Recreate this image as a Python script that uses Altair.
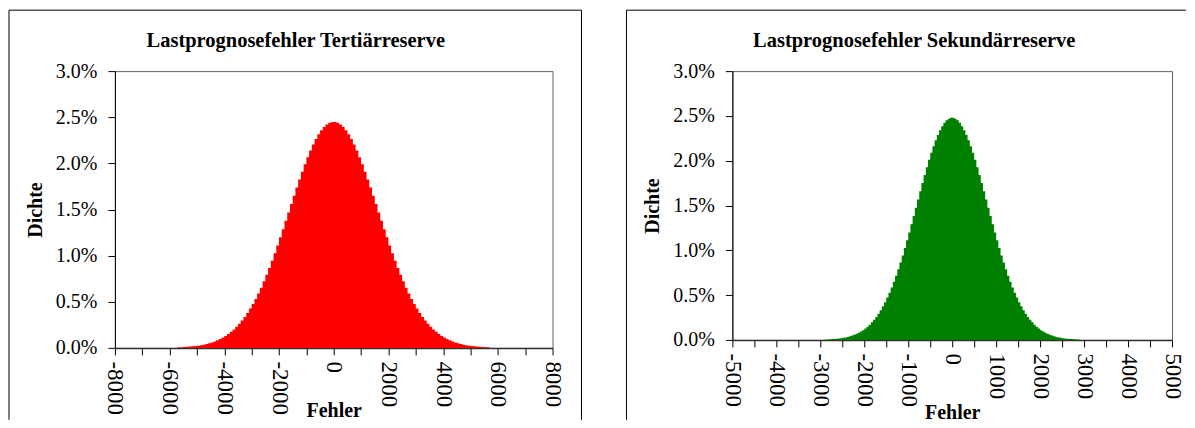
import altair as alt
import pandas as pd

# ---- data ----
tert_bin_width = 100
tert_lo = list(range(-5700, 5700, tert_bin_width))   # lower bin edges (Fehler)
tert_dichte = [  # percent per bin
    0.006, 0.0075, 0.009, 0.011, 0.014, 0.017, 0.020, 0.024, 0.029, 0.035,
    0.042, 0.050, 0.059, 0.070, 0.082, 0.096, 0.112, 0.130, 0.150, 0.174,
    0.200, 0.229, 0.261, 0.296, 0.336, 0.379, 0.426, 0.476, 0.531, 0.590,
    0.653, 0.721, 0.792, 0.867, 0.945, 1.027, 1.111, 1.198, 1.287, 1.377,
    1.468, 1.559, 1.649, 1.739, 1.826, 1.910, 1.991, 2.067, 2.139, 2.204,
    2.263, 2.315, 2.358, 2.394, 2.421, 2.440, 2.449,
    2.449, 2.440, 2.421, 2.394, 2.358, 2.315, 2.263, 2.204, 2.139, 2.067,
    1.991, 1.910, 1.826, 1.739, 1.649, 1.559, 1.468, 1.377, 1.287, 1.198,
    1.111, 1.027, 0.945, 0.867, 0.792, 0.721, 0.653, 0.590, 0.531, 0.476,
    0.426, 0.379, 0.336, 0.296, 0.261, 0.229, 0.200, 0.174, 0.150, 0.130,
    0.112, 0.096, 0.082, 0.070, 0.059, 0.050, 0.042, 0.035, 0.029, 0.024,
    0.020, 0.017, 0.014, 0.011, 0.009, 0.0075, 0.006,
]

sek_bin_width = 50
sek_lo = list(range(-2900, 2900, sek_bin_width))
sek_dichte = [
    0.0046, 0.0057, 0.0070, 0.0086, 0.0106, 0.0130, 0.0158, 0.0192, 0.0233, 0.0280,
    0.0336, 0.0402, 0.0479, 0.0569, 0.0673, 0.0794, 0.0931, 0.1089, 0.1268, 0.1472,
    0.1701, 0.1959, 0.2247, 0.2567, 0.2922, 0.3314, 0.3745, 0.421, 0.472, 0.527,
    0.586, 0.650, 0.717, 0.789, 0.864, 0.943, 1.026, 1.111, 1.200, 1.290,
    1.382, 1.475, 1.567, 1.660, 1.751, 1.840, 1.926, 2.010, 2.088, 2.161,
    2.228, 2.288, 2.341, 2.386, 2.423, 2.451, 2.469, 2.479,
    2.479, 2.469, 2.451, 2.423, 2.386, 2.341, 2.288, 2.228, 2.161, 2.088,
    2.010, 1.926, 1.840, 1.751, 1.660, 1.567, 1.475, 1.382, 1.290, 1.200,
    1.111, 1.026, 0.943, 0.864, 0.789, 0.717, 0.650, 0.586, 0.527, 0.472,
    0.421, 0.3745, 0.3314, 0.2922, 0.2567, 0.2247, 0.1959, 0.1701, 0.1472, 0.1268,
    0.1089, 0.0931, 0.0794, 0.0673, 0.0569, 0.0479, 0.0402, 0.0336, 0.0280, 0.0233,
    0.0192, 0.0158, 0.0130, 0.0106, 0.0086, 0.0070, 0.0057, 0.0046,
]

y_ticks = [0, 0.5, 1.0, 1.5, 2.0, 2.5, 3.0]
tert_x_ticks = list(range(-8000, 8001, 1000))
sek_x_ticks = list(range(-5000, 5001, 500))

FONT = "Liberation Serif"


def panel(lo, width_bin, vals, color, title, xdom, xticks, label_step, w, h,
          title_x, frame_right, frame_bottom, fehler_y, right_side):
    # step outline: each bin from its lower edge, closed at the last upper edge
    df = pd.DataFrame({"x": lo + [lo[-1] + width_bin], "dichte": vals + [0.0]})
    bars = alt.Chart(df).mark_area(interpolate="step-after", color=color).encode(
        x=alt.X("x:Q", scale=alt.Scale(domain=xdom, nice=False, zero=False),
                axis=alt.Axis(values=xticks,
                              labelExpr=f"datum.value % {label_step} == 0 ? '' + datum.value : ''",
                              labelAngle=90, labelAlign="left", labelBaseline="middle",
                              labelFont=FONT, labelFontSize=23, labelPadding=6,
                              labelFlush=False, labelOverlap=False, tickSize=7,
                              tickColor="black", domainColor="#303030", domainWidth=1.5,
                              labelColor="black", grid=False,
                              title="Fehler", titleFont=FONT, titleFontSize=20,
                              titleFontWeight="bold", titleColor="black",
                              titleBaseline="alphabetic", titleY=fehler_y)),
        y=alt.Y("dichte:Q", scale=alt.Scale(domain=[0, 3], nice=False),
                axis=alt.Axis(values=y_ticks,
                              labelExpr="format(datum.value, '.1f') + '%'",
                              labelFont=FONT, labelFontSize=20, labelPadding=11,
                              tickSize=7, tickColor="black", domainColor="black",
                              labelColor="black", grid=False,
                              title="Dichte", titleFont=FONT, titleFontSize=20,
                              titleFontWeight="bold", titleColor="black",
                              titlePadding=10)),
    )
    one = alt.Data(values=[{"k": 1}])
    top = alt.Chart(one).mark_rule(color="black", strokeWidth=1).encode(
        x=alt.value(-106), x2=alt.value(w + frame_right), y=alt.value(-61))
    lside = alt.Chart(one).mark_rule(color="black", strokeWidth=1).encode(
        x=alt.value(-106), y=alt.value(-61), y2=alt.value(h + frame_bottom))
    layers = [top, lside]
    if right_side:
        rside = alt.Chart(one).mark_rule(color="black", strokeWidth=1).encode(
            x=alt.value(w + frame_right), y=alt.value(-61), y2=alt.value(h + frame_bottom))
        layers.append(rside)
    ttl = alt.Chart(one).mark_text(font=FONT, fontSize=20.5, fontWeight="bold",
                                   align="center", baseline="alphabetic",
                                   color="black").encode(
        x=alt.value(title_x), y=alt.value(-24), text=alt.value(title),
    )
    return alt.layer(*layers, bars, ttl).properties(width=w, height=h)


left = panel(tert_lo, tert_bin_width, tert_dichte, "#FF0000",
             "Lastprognosefehler Tertiärreserve", [-8000, 8000], tert_x_ticks,
             2000, 438, 277, 181, 29, 72, 69, True)
right = panel(sek_lo, sek_bin_width, sek_dichte, "#008000",
              "Lastprognosefehler Sekundärreserve", [-5000, 5000], sek_x_ticks,
              1000, 440, 269, 182, 14, 80, 79, False)

chart = alt.hconcat(left, right, spacing=43).properties(
    padding={"left": 0, "top": 1, "right": 0, "bottom": 0},
    background="white",
).configure_view(stroke="#606060", strokeWidth=1)

chart.save("out.html", embed_options={"renderer": "svg", "actions": False})
